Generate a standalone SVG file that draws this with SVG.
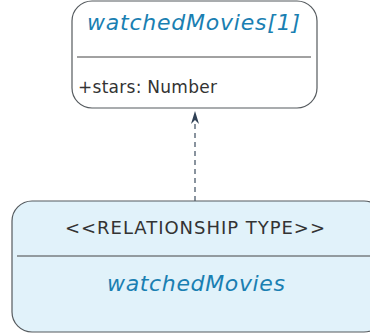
<svg xmlns="http://www.w3.org/2000/svg" width="370" height="335" viewBox="0 0 370 335">
<defs>
<style>
.box{stroke:#555a5e;stroke-width:1.2}
.sep{stroke:#444;stroke-width:1}
.title{font-family:"DejaVu Sans",Verdana,sans-serif;font-style:italic;fill:#1a7fb2}
.txt{font-family:"DejaVu Sans",Verdana,sans-serif;fill:#333}
.conn{stroke:#4b5a6b;stroke-width:1.3;stroke-dasharray:5,4;fill:none}
</style>
</defs>
<g id="connectors">
<path class="conn" d="M195,201 L195,124"/>
<path d="M195,111 L199,124 L195,120 L191,124 Z" fill="#2f4055"/>
</g>
<g id="watchedMovies1">
<rect class="box" x="72" y="1" width="245" height="107" rx="20" ry="20" fill="#ffffff"/>
<text class="title" x="87" y="30" font-size="22" textLength="213" lengthAdjust="spacing">watchedMovies[1]</text>
<line class="sep" x1="77" y1="57" x2="311" y2="57"/>
<text class="txt" x="78" y="93" font-size="17" textLength="139" lengthAdjust="spacing">+stars: Number</text>
</g>
<g id="watchedMoviesRel">
<rect class="box" x="12" y="201" width="372" height="131" rx="20" ry="20" fill="#e1f2fa"/>
<text class="txt" x="65" y="234" font-size="18" textLength="260" lengthAdjust="spacing">&lt;&lt;RELATIONSHIP TYPE&gt;&gt;</text>
<line class="sep" x1="17" y1="256" x2="370" y2="256"/>
<text class="title" x="107" y="291" font-size="22" textLength="178" lengthAdjust="spacing">watchedMovies</text>
</g>
</svg>
